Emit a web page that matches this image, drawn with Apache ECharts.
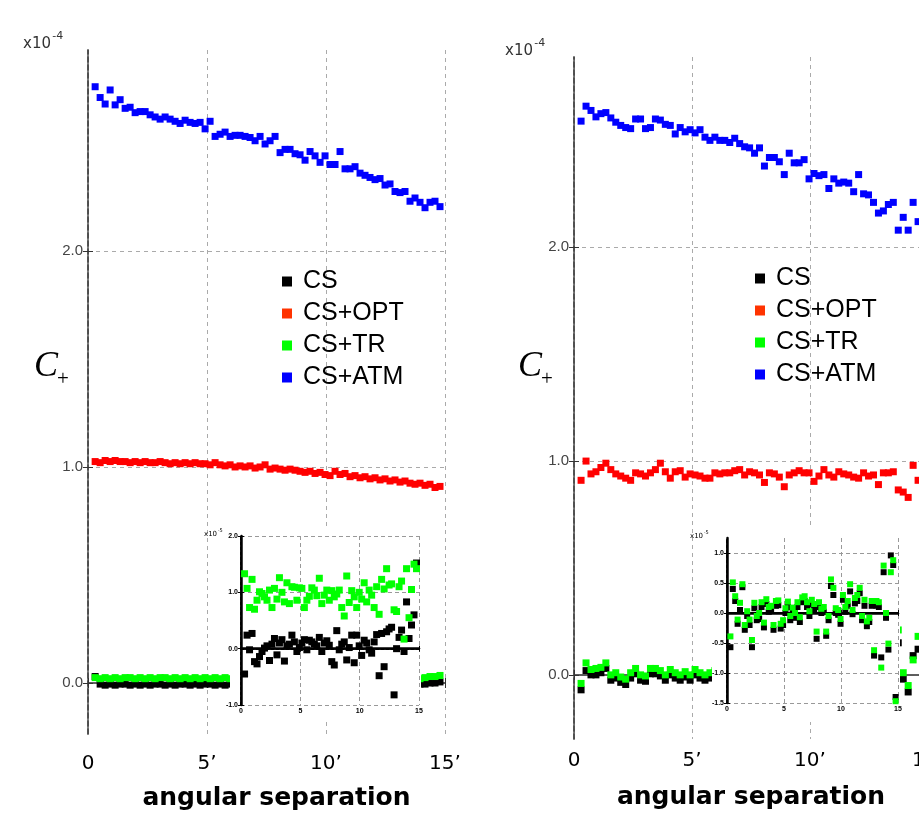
<!DOCTYPE html>
<html>
<head>
<meta charset="utf-8">
<script src="https://cdn.jsdelivr.net/npm/echarts@6/dist/echarts.min.js"></script>
<style>
    html, body { margin: 0; padding: 0; background: #fff; }
    #chart { width: 919px; height: 815px; }
</style>
</head>
<body>
<div id="chart"></div>
<script>
    // angular separation (arcmin) of each bin
    var theta = [0.30,0.51,0.72,0.93,1.14,1.35,1.56,1.77,1.98,2.19,
                 2.40,2.61,2.82,3.03,3.24,3.45,3.66,3.87,4.08,4.29,
                 4.50,4.71,4.92,5.13,5.34,5.55,5.76,5.97,6.18,6.39,
                 6.60,6.81,7.02,7.23,7.44,7.65,7.86,8.07,8.28,8.49,
                 8.70,8.91,9.12,9.33,9.54,9.75,9.96,10.17,10.38,10.59,
                 10.80,11.01,11.22,11.43,11.64,11.85,12.06,12.27,12.48,12.69,
                 12.90,13.11,13.32,13.53,13.74,13.95,14.16,14.37,14.58,14.79];

    var mainYTicks = [0, 1, 2];
    var leftInsetYTicks = [-1, 0, 1, 2];
    var rightInsetYTicks = [-1.5, -1, -0.5, 0, 0.5, 1];

    // ---- left panel, C+ in units of 1e-4 ----
    var leftCS = [0.03,-0.005,-0.01,-0.005,-0.01,-0.005,-0.005,-0.01,-0.005,-0.01,
                  -0.005,-0.01,-0.005,-0.005,-0.01,-0.005,-0.01,-0.005,-0.005,-0.01,
                  -0.005,-0.01,-0.005,-0.005,-0.01,-0.005,-0.01,-0.005,-0.005,-0.01,
                  -0.005,-0.01,-0.005,-0.005,-0.01,-0.005,-0.01,-0.005,-0.005,-0.01,
                  -0.005,-0.01,-0.005,-0.005,-0.01,-0.005,-0.01,-0.005,-0.005,-0.01,
                  -0.005,-0.01,-0.005,-0.005,-0.01,-0.005,-0.01,-0.005,-0.005,-0.01,
                  -0.005,-0.01,-0.005,-0.005,-0.01,-0.005,-0.005,0.0,0.0,0.005];
    var leftOPT = [1.025,1.02,1.03,1.025,1.03,1.025,1.025,1.02,1.025,1.02,
                   1.025,1.02,1.02,1.025,1.02,1.015,1.02,1.015,1.02,1.015,
                   1.02,1.015,1.015,1.01,1.02,1.01,1.005,1.01,1.0,1.005,
                   1.0,1.005,0.995,1.0,1.01,0.99,0.995,0.99,0.985,0.99,
                   0.985,0.98,0.975,0.98,0.97,0.975,0.965,0.96,0.98,0.965,
                   0.97,0.955,0.96,0.95,0.955,0.945,0.95,0.94,0.945,0.935,
                   0.94,0.93,0.935,0.925,0.92,0.925,0.915,0.92,0.905,0.91];
    var leftTR = [0.025,0.02,0.025,0.02,0.025,0.02,0.025,0.025,0.02,0.025,
                  0.02,0.025,0.02,0.025,0.025,0.02,0.025,0.02,0.025,0.02,
                  0.025,0.02,0.025,0.02,0.025,0.02,0.025,0.02,0.025,0.02,
                  0.025,0.02,0.025,0.02,0.025,0.02,0.025,0.02,0.025,0.02,
                  0.025,0.02,0.025,0.02,0.025,0.02,0.025,0.02,0.025,0.02,
                  0.025,0.02,0.025,0.02,0.025,0.02,0.025,0.02,0.025,0.02,
                  0.025,0.02,0.025,0.02,0.025,0.02,0.025,0.03,0.03,0.035];
    var leftATM = [2.76,2.71,2.68,2.745,2.676,2.70,2.66,2.665,2.64,2.645,
                   2.645,2.63,2.62,2.61,2.62,2.61,2.60,2.59,2.605,2.595,
                   2.59,2.595,2.565,2.60,2.53,2.54,2.55,2.53,2.535,2.535,
                   2.53,2.525,2.51,2.53,2.495,2.51,2.53,2.455,2.47,2.47,
                   2.45,2.445,2.42,2.46,2.44,2.41,2.44,2.40,2.40,2.46,
                   2.38,2.38,2.39,2.36,2.35,2.34,2.33,2.335,2.305,2.31,
                   2.275,2.27,2.275,2.23,2.245,2.225,2.20,2.225,2.23,2.205];

    // left inset, units of 1e-5
    var leftInsetCS = [-0.45,0.24,-0.02,0.27,-0.23,-0.27,-0.14,-0.05,0.01,0.05,
                       -0.21,0.08,0.18,-0.11,0.10,0.16,-0.22,0.05,0.08,0.24,
                       0.12,-0.05,0.02,0.10,0.16,-0.02,0.15,0.12,0.08,0.05,
                       0.20,-0.05,0.10,0.14,0.06,-0.23,-0.29,0.32,-0.02,0.08,
                       0.12,-0.20,0.02,0.24,-0.25,0.24,0.05,-0.12,0.15,0.10,
                       -0.02,-0.08,0.12,0.25,-0.48,0.27,-0.32,0.30,0.35,0.38,
                       -0.82,0.0,0.20,0.33,-0.05,0.83,0.18,0.42,0.60,1.52];
    var leftInsetTR = [1.33,1.07,0.73,1.23,0.70,0.86,1.01,0.98,0.92,0.86,
                       1.04,0.73,1.07,0.88,1.26,1.00,0.83,1.17,0.80,1.10,
                       1.09,0.86,1.08,1.07,0.73,0.86,0.93,1.08,1.04,0.94,
                       1.25,0.80,0.95,1.04,0.86,1.03,0.92,0.97,1.04,0.73,
                       0.58,1.29,0.82,1.03,0.92,0.73,1.00,0.88,1.17,0.83,
                       1.04,0.95,0.73,1.10,0.61,1.23,1.06,1.42,1.13,1.15,
                       0.69,0.66,1.10,1.20,0.17,1.42,0.55,1.05,1.50,1.42];

    // ---- right panel ----
    var rightCS = [-0.07,0.02,0.0,0.0,0.01,0.03,-0.025,-0.015,-0.035,-0.045,
                   -0.015,0.005,-0.025,-0.03,0.005,0.005,-0.005,-0.025,0.0,-0.015,
                   -0.025,-0.01,-0.025,0.0,-0.015,-0.025,-0.015,-0.005,-0.025,-0.015,
                   -0.005,-0.025,-0.015,0.005,-0.025,-0.005,-0.015,0.005,-0.025,-0.005,
                   -0.015,0.005,-0.005,-0.025,0.015,-0.005,-0.015,0.005,-0.025,-0.005,
                   0.005,-0.015,-0.025,-0.005,0.005,-0.045,-0.005,-0.015,-0.075,-0.025,
                   -0.055,0.015,-0.085,0.025,0.15,-0.02,-0.08,0.09,0.12,-0.13];
    var rightOPT = [0.91,1.0,0.94,0.95,0.97,0.99,0.96,0.94,0.93,0.92,
                    0.91,0.945,0.94,0.93,0.945,0.96,0.99,0.95,0.92,0.95,
                    0.955,0.925,0.94,0.935,0.93,0.92,0.92,0.945,0.94,0.945,
                    0.945,0.955,0.96,0.935,0.95,0.945,0.935,0.90,0.945,0.94,
                    0.925,0.88,0.935,0.945,0.955,0.945,0.945,0.905,0.93,0.96,
                    0.935,0.925,0.95,0.94,0.935,0.925,0.92,0.945,0.93,0.935,
                    0.89,0.945,0.945,0.95,0.865,0.855,0.83,0.98,0.91,1.03];
    var rightTR = [-0.04,0.056,0.025,0.03,0.035,0.056,0.0,0.01,-0.01,-0.02,
                   0.01,0.03,0.0,-0.005,0.03,0.03,0.02,0.0,0.025,0.01,
                   0.0,0.015,0.0,0.025,0.01,0.0,0.01,0.02,0.0,0.01,
                   0.02,0.0,0.01,0.03,0.0,0.02,0.01,0.03,0.0,0.02,
                   0.01,0.03,0.02,0.0,0.04,0.02,0.01,0.03,0.0,0.02,
                   0.03,0.01,0.0,0.02,0.03,-0.02,0.02,0.01,-0.05,0.0,
                   -0.03,0.04,-0.06,0.05,0.21,0.01,-0.05,0.07,0.18,-0.1];
    var rightATM = [2.59,2.66,2.64,2.61,2.625,2.63,2.605,2.585,2.57,2.56,
                    2.555,2.60,2.60,2.555,2.56,2.60,2.595,2.575,2.57,2.53,
                    2.56,2.54,2.55,2.535,2.55,2.515,2.50,2.515,2.50,2.50,
                    2.49,2.51,2.485,2.47,2.465,2.44,2.465,2.38,2.42,2.42,
                    2.40,2.34,2.44,2.395,2.395,2.41,2.32,2.345,2.335,2.34,
                    2.275,2.32,2.30,2.305,2.30,2.26,2.34,2.25,2.245,2.21,
                    2.16,2.17,2.20,2.21,2.08,2.14,2.08,2.21,2.12,2.22];

    var rightInsetCS = [-0.57,0.40,0.20,-0.18,0.05,0.43,-0.28,-0.05,-0.20,-0.57,
                        0.08,-0.12,-0.10,0.10,-0.24,0.15,0.02,0.05,-0.28,0.12,
                        0.13,-0.26,-0.20,0.0,0.10,-0.12,0.02,-0.08,0.10,-0.15,
                        0.18,0.20,0.10,-0.05,0.14,0.06,-0.43,0.10,0.0,0.02,
                        -0.38,-0.12,0.45,0.30,0.0,-0.03,-0.18,0.22,0.02,0.12,
                        0.36,-0.02,0.16,0.20,0.33,-0.12,0.12,-0.22,-0.15,0.12,
                        -0.71,0.12,0.10,-0.74,0.68,-0.08,-0.61,0.96,0.80,-1.40];
    var rightInsetTR = [-0.39,0.51,0.28,-0.11,0.17,0.48,-0.20,0.03,-0.11,-0.45,
                        0.17,-0.05,0.0,0.18,-0.16,0.23,0.10,0.12,-0.20,0.20,
                        0.21,-0.18,-0.12,0.08,0.19,-0.05,0.09,0.0,0.18,-0.07,
                        0.26,0.28,0.18,0.03,0.22,0.15,-0.31,0.18,0.07,0.10,
                        -0.31,-0.05,0.56,0.42,0.08,0.05,-0.10,0.30,0.10,0.20,
                        0.48,0.05,0.25,0.30,0.42,-0.05,0.22,-0.14,-0.08,0.20,
                        -0.62,0.20,0.18,-0.91,0.79,0.0,-0.51,0.68,0.88,-1.47];

    var colors = { CS: '#000000', OPT: '#ff0000', TR: '#00ff00', ATM: '#0000ff' };

    function pts(ys) {
        return theta.map(function (t, i) { return [t, ys[i]]; });
    }
    function arcmin(v) {
        return v === 0 ? '0' : v + '\u2019';
    }

    var chart = echarts.init(document.getElementById('chart'), null, { renderer: 'canvas' });

    // main panel axes: bottom/top x, left/right y
    function mainAxes(grid, ymin, ymax, namePad, labelMargin, nameGap) {
        var x = [{
            gridIndex: grid, type: 'value', min: 0, max: 15, interval: 5, position: 'bottom',
            axisLine: { show: true, lineStyle: { color: '#555', width: 1.5 } },
            axisTick: { show: true, inside: true, length: 5, lineStyle: { color: '#333' } },
            axisLabel: { fontFamily: 'DejaVu Sans', fontSize: 20, color: '#000', margin: labelMargin, formatter: arcmin },
            splitLine: { show: true, lineStyle: { type: [4, 4], color: '#aaa' } },
            name: 'angular separation', nameLocation: 'middle', nameGap: nameGap,
            nameTextStyle: { fontFamily: 'DejaVu Sans', fontWeight: 'bold', fontSize: 25, color: '#000', padding: namePad }
        }, {
            gridIndex: grid, type: 'value', min: 0, max: 15, interval: 5, position: 'top',
            axisLine: { show: true, lineStyle: { color: '#555', width: 1.5 } },
            axisTick: { show: true, inside: true, length: 5, lineStyle: { color: '#333' } },
            axisLabel: { show: false }, splitLine: { show: false }
        }];
        var y = [{
            gridIndex: grid, type: 'value', min: ymin, max: ymax, position: 'left',
            axisLine: { show: true, lineStyle: { color: '#555', width: 1.5 } },
            axisTick: { show: true, inside: true, length: 5, customValues: mainYTicks, lineStyle: { color: '#333' } },
            axisLabel: { customValues: mainYTicks, fontFamily: 'Liberation Sans', fontSize: 15, color: '#444', margin: 5,
                         formatter: function (v) { return v.toFixed(1); } },
            splitLine: { show: true, lineStyle: { type: [4, 4], color: '#aaa' } }
        }, {
            gridIndex: grid, type: 'value', min: ymin, max: ymax, position: 'right',
            axisLine: { show: true, lineStyle: { color: '#444', width: 1.5, type: [5, 3] } },
            axisTick: { show: true, inside: true, length: 5, customValues: mainYTicks, lineStyle: { color: '#333' } },
            axisLabel: { show: false }, splitLine: { show: false }
        }];
        return { x: x, y: y };
    }

    function insetAxes(grid, ymin, ymax, yTicks, topDashed) {
        var solid = { color: '#000', width: 2 };
        var dashed = { color: '#000', width: 2, type: [3, 2] };
        var lbl = { fontFamily: 'Liberation Sans', fontSize: 7, fontWeight: 'bold', color: '#000', margin: 3 };
        var x = [{
            gridIndex: grid, type: 'value', min: 0, max: 15, interval: 5, position: 'bottom', z: 8,
            axisLine: { show: true, lineStyle: { color: '#000', width: 2.5 } },
            axisTick: { show: true, inside: true, length: 3, lineStyle: { color: '#000' } },
            axisLabel: lbl,
            splitLine: { show: true, lineStyle: { type: [4, 3], color: '#999' } }
        }, {
            gridIndex: grid, type: 'value', min: 0, max: 15, interval: 5, position: 'top', z: 8,
            axisLine: { show: true, lineStyle: topDashed ? dashed : solid },
            axisTick: { show: true, inside: true, length: 3, lineStyle: { color: '#000' } },
            axisLabel: { show: false }, splitLine: { show: false }
        }];
        var y = [{
            gridIndex: grid, type: 'value', min: ymin, max: ymax, position: 'left', z: 8,
            axisLine: { show: true, lineStyle: { color: '#000', width: 2.5 } },
            axisTick: { show: true, inside: true, length: 3, customValues: yTicks, lineStyle: { color: '#000' } },
            axisLabel: Object.assign({ customValues: yTicks, formatter: function (v) { return v.toFixed(1); } }, lbl),
            splitLine: { show: true, lineStyle: { type: [4, 3], color: '#999' } }
        }, {
            gridIndex: grid, type: 'value', min: ymin, max: ymax, position: 'right', z: 8,
            axisLine: { show: true, lineStyle: dashed },
            axisTick: { show: true, inside: true, length: 3, customValues: yTicks, lineStyle: { color: '#000' } },
            axisLabel: { show: false }, splitLine: { show: false }
        }];
        return { x: x, y: y };
    }

    var aL = mainAxes(0, -0.236, 2.93, [0, 0, 0, 20], 20, 52);
    var aLi = insetAxes(1, -1, 2, leftInsetYTicks, true);
    var aR = mainAxes(2, -0.30, 2.89, 0, 12, 46);
    var aRi = insetAxes(3, -1.5, 1.25, rightInsetYTicks, false);

    function sc(name, ys, color, xi, size, z) {
        return {
            name: name, type: 'scatter', symbol: 'rect', symbolSize: size,
            xAxisIndex: xi, yAxisIndex: xi, z: z, data: pts(ys),
            itemStyle: { color: color, opacity: 1 }, emphasis: { disabled: true }
        };
    }

    var legendData = [
        { name: 'CS', itemStyle: { color: '#000' } },
        { name: 'CS+OPT', itemStyle: { color: '#ff3300' } },
        { name: 'CS+TR', itemStyle: { color: '#00ff00' } },
        { name: 'CS+ATM', itemStyle: { color: '#0000ff' } }
    ];
    function legend(left, top) {
        return {
            left: left, top: top, orient: 'vertical', selectedMode: false,
            itemWidth: 10, itemHeight: 10, itemGap: 7, icon: 'rect', padding: 0,
            textStyle: { fontFamily: 'Liberation Sans', fontSize: 25, color: '#000', padding: [0, 0, 0, 6] },
            data: legendData
        };
    }

    // "x10" with a raised exponent
    function supText(x, y, exp, size, color) {
        return [
            { type: 'text', x: x, y: y, z: 10, style: { text: 'x10', fontFamily: 'DejaVu Sans', fontSize: size, fill: color } },
            { type: 'text', x: x + size * 1.95, y: y - size * 0.45, z: 10,
              style: { text: exp, fontFamily: 'DejaVu Sans', fontSize: Math.round(size * 0.75), fill: color } }
        ];
    }
    function cPlus(x, y) {
        return [
            { type: 'text', x: x, y: y, z: 10, style: { text: 'C', fontFamily: 'Liberation Serif', fontStyle: 'italic', fontSize: 36, fill: '#000' } },
            { type: 'text', x: x + 23, y: y + 20, z: 10, style: { text: '+', fontFamily: 'Liberation Serif', fontSize: 21, fill: '#000' } }
        ];
    }

    var graphics = [
        { type: 'rect', z: 6, shape: { x: 230, y: 526, width: 191, height: 196 }, style: { fill: '#fff' } },
        { type: 'rect', z: 6, shape: { x: 712, y: 526, width: 188, height: 196 }, style: { fill: '#fff' } }
    ]
        .concat(supText(23, 37, '-4', 15, '#333'))
        .concat(supText(505, 44, '-4', 15, '#333'))
        .concat(supText(204, 531, '-5', 7, '#000'))
        .concat(supText(690, 533, '-5', 7, '#000'))
        .concat(cPlus(34, 349))
        .concat(cPlus(518, 349));

    var option = {
        animation: false,
        backgroundColor: '#fff',
        grid: [
            { left: 88, top: 50, width: 357, height: 684, outerBoundsMode: 'none', containLabel: false },
            { left: 241, top: 536, width: 178, height: 169, outerBoundsMode: 'none', containLabel: false },
            { left: 574, top: 57, width: 354, height: 682, outerBoundsMode: 'none', containLabel: false },
            { left: 727, top: 538, width: 171, height: 165, outerBoundsMode: 'none', containLabel: false }
        ],
        xAxis: aL.x.concat(aLi.x, aR.x, aRi.x),
        yAxis: aL.y.concat(aLi.y, aR.y, aRi.y),
        legend: [legend(282, 269), legend(755, 266)],
        graphic: { elements: graphics },
        series: [
            sc('CS', leftCS, colors.CS, 0, 7, 2),
            sc('CS+OPT', leftOPT, colors.OPT, 0, 7, 2),
            sc('CS+TR', leftTR, colors.TR, 0, 7, 2),
            sc('CS+ATM', leftATM, colors.ATM, 0, 7, 2),
            sc('CS', leftInsetCS, colors.CS, 2, 7, 9),
            sc('CS+TR', leftInsetTR, colors.TR, 2, 7, 9),
            sc('CS', rightCS, colors.CS, 4, 7, 2),
            sc('CS+OPT', rightOPT, colors.OPT, 4, 7, 2),
            sc('CS+TR', rightTR, colors.TR, 4, 7, 2),
            sc('CS+ATM', rightATM, colors.ATM, 4, 7, 2),
            sc('CS', rightInsetCS, colors.CS, 6, 6, 9),
            sc('CS+TR', rightInsetTR, colors.TR, 6, 6, 9)
        ]
    };
    chart.setOption(option);
</script>
</body>
</html>
